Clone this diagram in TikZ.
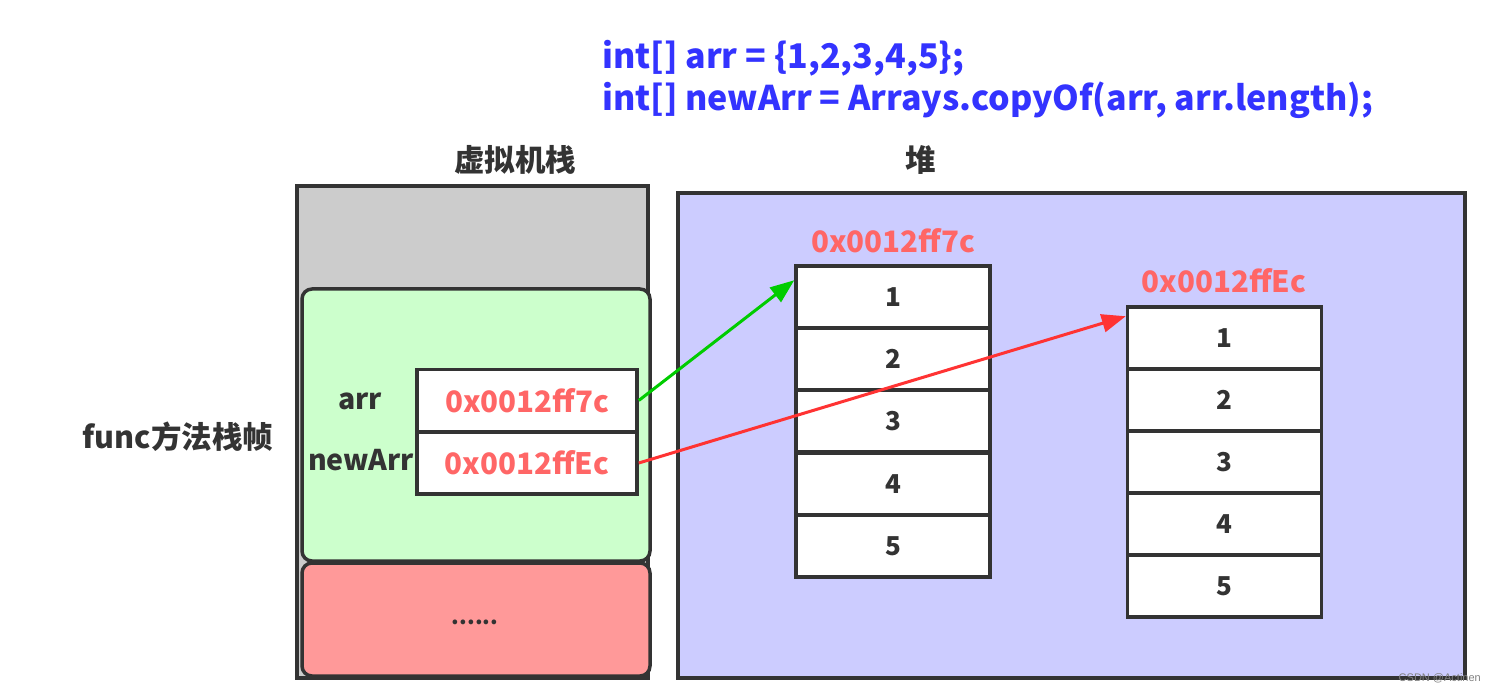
\documentclass[tikz,border=0pt]{standalone}
\usepackage{fontspec}
\setmainfont{Noto Sans CJK SC}
\newfontfamily\wmfont{Liberation Sans}
\usetikzlibrary{arrows.meta,calc}
\definecolor{codeblue}{HTML}{3333FF}
\definecolor{addrred}{HTML}{FF6666}
\definecolor{txtdark}{HTML}{333333}
\definecolor{stackgray}{HTML}{CCCCCC}
\definecolor{framegreen}{HTML}{CCFFCC}
\definecolor{framered}{HTML}{FF9999}
\definecolor{heapblue}{HTML}{CCCCFF}
\definecolor{arrowgreen}{HTML}{00CC00}
\definecolor{arrowred}{HTML}{FF3333}
\tikzset{
  border/.style={draw=txtdark,line width=3.5pt},
  cell/.style={border,fill=white,minimum width=194pt,minimum height=62pt,inner sep=0pt,
     font=\fontsize{26}{30}\selectfont\bfseries,text=txtdark},
  refbox/.style={border,fill=white,minimum width=220pt,minimum height=62pt,inner sep=0pt,
     font=\fontsize{29.5}{33}\selectfont\bfseries,text=addrred},
  addr/.style={font=\fontsize{29.5}{33}\selectfont\bfseries,text=addrred,inner sep=0pt},
  lbl/.style={font=\fontsize{28.5}{32}\selectfont\bfseries,text=txtdark,inner sep=0pt},
  title/.style={font=\fontsize{30.5}{34}\selectfont\bfseries,text=txtdark,inner sep=0pt},
  code/.style={font=\fontsize{34}{40}\selectfont\bfseries,text=codeblue,inner sep=0pt,anchor=base west},
  ptr/.style={line width=3pt,-{Triangle[length=24pt,width=18pt]}},
}
\begin{document}
\begin{tikzpicture}[x=1pt,y=-1pt]
\useasboundingbox (0,0) rectangle (1496,692);
% code
\node[code] (c1) at (602,69) {int[] arr = \{1,2,3,4,5\};};
\node[code] (c2) at (602,111) {int[] newArr = Arrays.copyOf(arr, arr.length);};
% titles
\node[title] (t1) at (515,160) {虚拟机栈};
\node[title] (t2) at (921,160) {堆};
% stack
\path[border,fill=stackgray] (297,186) rectangle (648,678);
\path[border,fill=framegreen,rounded corners=10pt] (302,289) rectangle (650,561);
\path[border,fill=framered,rounded corners=10pt] (302,563) rectangle (650,676);
\node[lbl,font=\fontsize{22}{26}\selectfont\bfseries] (dots) at (475,622) {......};
\node[title] (ff) at (178,437) {func方法栈帧};
\node[lbl] (larr) at (360,401) {arr};
\node[lbl] (lnew) at (361,460) {newArr};
\node[refbox] (r1) at (527,400.5) {0x0012ff7c};
\node[refbox] (r2) at (527,463) {0x0012ffEc};
% heap
\path[border,fill=heapblue] (678,193) rectangle (1465,678);
\node[addr] (h1) at (893,241) {0x0012ff7c};
\node[addr] (h2) at (1224,281) {0x0012ffEc};
\foreach \v/\y in {1/297,2/359,3/421,4/484,5/546}{
  \node[cell] (a\v) at (893,\y) {\v};
}
\foreach \v/\y in {1/338,2/400,3/462,4/524,5/586}{
  \node[cell] (b\v) at (1224.5,\y) {\v};
}
% pointers
\draw[ptr,arrowgreen] (r1.east) -- ([yshift=-16pt]a1.north west);
\draw[ptr,arrowred] (r2.east) -- ([yshift=-11pt]b1.north west);
% watermark
\node[font=\wmfont\fontsize{11}{13}\selectfont,text=gray,anchor=east,inner sep=0pt] (wm) at (1481,678) {CSDN @Actinen};
\end{tikzpicture}
\end{document}
